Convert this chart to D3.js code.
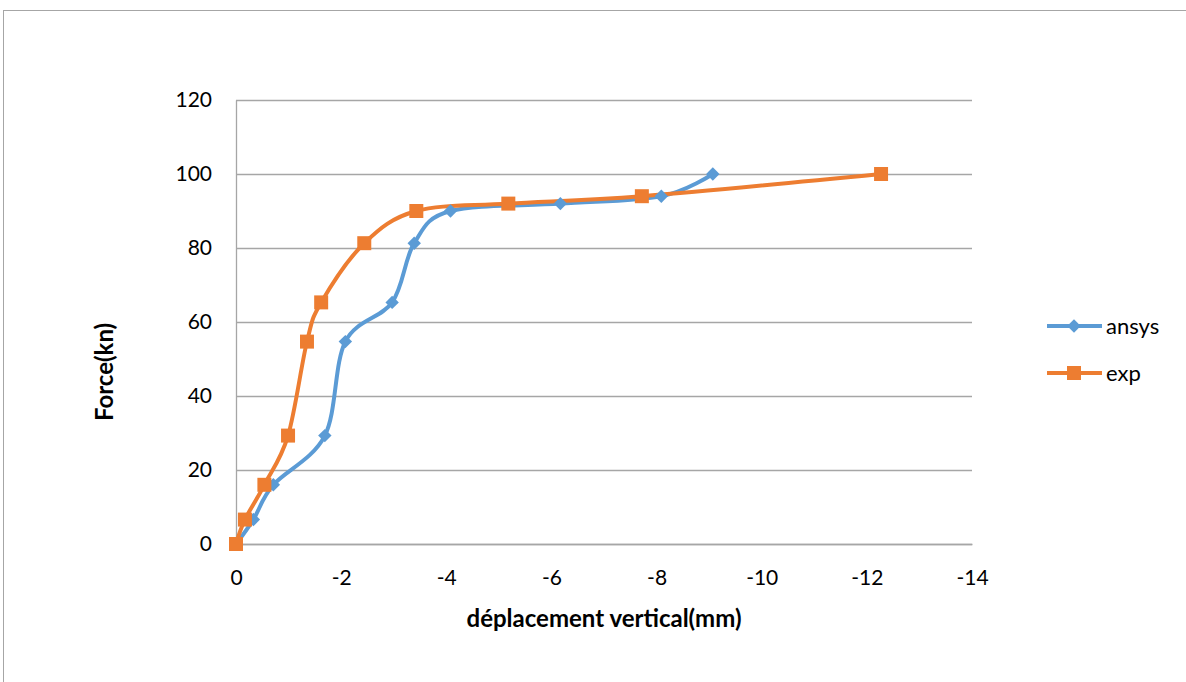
<!DOCTYPE html>
<html>
<head>
<meta charset="utf-8">
<script src="https://cdn.jsdelivr.net/npm/d3@7"></script>
<style>
  body { margin: 0; background: #fff; }
  text { font-family: Lato, "Open Sans", sans-serif; fill: #000; }
</style>
</head>
<body>
<svg id="chart" width="1186" height="682"></svg>
<script>
// values
const seriesNames = ["ansys", "exp"];
const ansysX = [0, -0.33, -0.71, -1.69, -2.08, -2.97, -3.39, -4.08, -6.17, -8.09, -9.07];
const ansysY = [0, 6.6, 16, 29.3, 54.7, 65.3, 81.3, 90, 92, 94, 100];
const expX = [0, -0.17, -0.54, -0.99, -1.35, -1.62, -2.44, -3.43, -5.18, -7.72, -12.27];
const expY = [0, 6.6, 16, 29.3, 54.7, 65.3, 81.3, 90, 92, 94, 100];
const xTicks = [0, -2, -4, -6, -8, -10, -12, -14];
const yTicks = [0, 20, 40, 60, 80, 100, 120];

const colors = { ansys: "#5b9bd5", exp: "#ed7d31" };

const svg = d3.select("#chart"),
    margin = { top: 100, left: 236 },
    width = 736,
    height = 444,
    chart = svg.append("g").attr("transform", `translate(${margin.left},${margin.top})`);

// chart frame (runs past the right and bottom edges)
svg.append("rect")
    .attr("x", 3.5).attr("y", 10.5)
    .attr("width", 1300).attr("height", 800)
    .attr("fill", "none")
    .attr("stroke", "#a6a6a6");

const x = d3.scaleLinear().domain([0, -14]).range([0, width]);
const y = d3.scaleLinear().domain([0, 120]).range([height, 0]);

// horizontal gridlines
chart.selectAll(".grid")
    .data(yTicks)
    .enter().append("line")
    .attr("class", "grid")
    .attr("x1", 0).attr("x2", width)
    .attr("y1", d => Math.round(y(d)) + 0.5)
    .attr("y2", d => Math.round(y(d)) + 0.5)
    .attr("stroke", "#a6a6a6")
    .attr("stroke-width", 1.3);

// axes
const yAxis = chart.append("g")
    .call(d3.axisLeft(y).tickValues(yTicks).tickSize(0).tickPadding(24));
yAxis.select(".domain").attr("stroke", "#a6a6a6").attr("stroke-width", 1.3);
yAxis.selectAll("text").style("font-size", "21px");

const xAxis = chart.append("g")
    .attr("transform", `translate(0,${height})`)
    .call(d3.axisBottom(x).tickValues(xTicks).tickSize(0).tickPadding(26)
        .tickFormat(d => d === 0 ? "0" : String(d)));
xAxis.select(".domain").attr("stroke", "#a6a6a6").attr("stroke-width", 1.3);
xAxis.selectAll("text").style("font-size", "21px");

// axis titles
svg.append("text")
    .attr("text-anchor", "middle")
    .attr("x", 604)
    .attr("y", 627)
    .style("font-size", "24px")
    .style("font-weight", "bold")
    .text("déplacement vertical(mm)");

svg.append("text")
    .attr("text-anchor", "middle")
    .attr("transform", "translate(113,372) rotate(-90)")
    .style("font-size", "24px")
    .style("font-weight", "bold")
    .text("Force(kn)");

// series
const series = [
    { name: "ansys", pts: ansysX.map((v, i) => [v, ansysY[i]]) },
    { name: "exp", pts: expX.map((v, i) => [v, expY[i]]) }
];

const line = d3.line()
    .x(d => x(d[0]))
    .y(d => y(d[1]))
    .curve(d3.curveCatmullRom.alpha(0));

series.forEach(s => {
    chart.append("path")
        .datum(s.pts)
        .attr("fill", "none")
        .attr("stroke", colors[s.name])
        .attr("stroke-width", 4)
        .attr("stroke-linejoin", "round")
        .attr("d", line);
});

const diamond = d3.symbol().type(d3.symbolSquare).size(90);
const square = d3.symbol().type(d3.symbolSquare).size(196);

series.forEach(s => {
    chart.selectAll(".m-" + s.name)
        .data(s.pts)
        .enter().append("path")
        .attr("class", "m-" + s.name)
        .attr("d", s.name === "ansys" ? diamond : square)
        .attr("transform", d => `translate(${x(d[0])},${y(d[1])})` + (s.name === "ansys" ? " rotate(45)" : ""))
        .attr("fill", colors[s.name]);
});

// legend
const legend = svg.append("g");
seriesNames.forEach((name, i) => {
    const ly = 326 + i * 47;
    legend.append("line")
        .attr("x1", 1047).attr("x2", 1102)
        .attr("y1", ly).attr("y2", ly)
        .attr("stroke", colors[name])
        .attr("stroke-width", 4);
    legend.append("path")
        .attr("d", name === "ansys" ? diamond : square)
        .attr("transform", `translate(1074,${ly})` + (name === "ansys" ? " rotate(45)" : ""))
        .attr("fill", colors[name]);
    legend.append("text")
        .attr("x", 1106)
        .attr("y", ly)
        .attr("dy", "0.35em")
        .style("font-size", "22px")
        .text(name);
});
</script>
</body>
</html>
